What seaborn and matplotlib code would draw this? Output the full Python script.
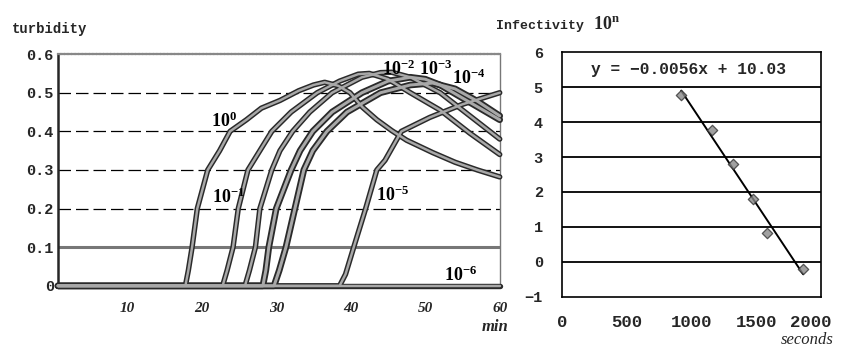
import numpy as np
import pandas as pd
import matplotlib.pyplot as plt
import matplotlib.transforms as mtransforms
import seaborn as sns

# --- turbidity curves, time in min ---
t_e0 = [0.7, 17.8, 18.2, 18.7, 19.4, 20.8, 22.4, 23.8, 26.0, 28.0, 30.5, 33.0, 35.0, 36.5, 38.3, 39.9, 41.6, 43.5, 45.5, 47.5, 51.0, 54.0, 57.0, 60.0]
od_e0 = [0.0, 0.0, 0.04, 0.1, 0.2, 0.3, 0.35, 0.4, 0.43, 0.46, 0.48, 0.505, 0.52, 0.527, 0.518, 0.5, 0.462, 0.43, 0.402, 0.377, 0.345, 0.32, 0.30, 0.282]

t_e1 = [0.7, 22.8, 23.4, 24.2, 24.9, 26.2, 27.8, 29.4, 32.0, 35.5, 38.5, 41.0, 42.5, 45.0, 48.0, 52.0, 56.0, 60.0]
od_e1 = [0.0, 0.0, 0.04, 0.1, 0.2, 0.3, 0.35, 0.4, 0.45, 0.5, 0.53, 0.548, 0.55, 0.535, 0.5, 0.455, 0.395, 0.34]

t_e2 = [0.7, 25.8, 26.4, 27.2, 27.8, 29.4, 30.5, 32.2, 34.5, 37.5, 41.5, 44.0, 45.5, 48.0, 52.0, 56.0, 60.0]
od_e2 = [0.0, 0.0, 0.04, 0.1, 0.2, 0.3, 0.35, 0.4, 0.45, 0.5, 0.54, 0.552, 0.553, 0.54, 0.5, 0.44, 0.38]

t_e3 = [0.7, 28.2, 28.6, 29.0, 30.0, 32.0, 33.2, 34.9, 37.5, 41.5, 45.0, 48.0, 50.0, 52.0, 56.0, 60.0]
od_e3 = [0.0, 0.0, 0.04, 0.1, 0.2, 0.3, 0.35, 0.4, 0.45, 0.5, 0.53, 0.54, 0.535, 0.52, 0.475, 0.43]

t_e4 = [0.7, 29.7, 30.4, 31.3, 32.5, 33.7, 34.9, 36.8, 39.5, 44.0, 48.0, 51.0, 54.0, 57.0, 60.0]
od_e4 = [0.0, 0.0, 0.04, 0.1, 0.2, 0.3, 0.35, 0.4, 0.45, 0.5, 0.52, 0.525, 0.51, 0.478, 0.44]

t_e5 = [0.7, 38.5, 39.3, 40.4, 42.0, 43.5, 44.6, 46.8, 50.6, 55.0, 60.0]
od_e5 = [0.0, 0.0, 0.03, 0.1, 0.2, 0.3, 0.325, 0.4, 0.436, 0.47, 0.5]

t_e6 = [0.7, 60.0]
od_e6 = [0.0, 0.0]

dilutions = ["10^0", "10^-1", "10^-2", "10^-3", "10^-4", "10^-5", "10^-6"]
curve_t = [t_e0, t_e1, t_e2, t_e3, t_e4, t_e5, t_e6]
curve_od = [od_e0, od_e1, od_e2, od_e3, od_e4, od_e5, od_e6]

# --- infectivity vs detection time ---
seconds = [919, 1158, 1320, 1475, 1583, 1861]
log_inf = [4.77, 3.77, 2.80, 1.80, 0.83, -0.20]

rows = []
for name, ts, ods in zip(dilutions, curve_t, curve_od):
    for t, v in zip(ts, ods):
        rows.append({"dilution": name, "time": t, "turbidity": v})
df = pd.DataFrame(rows)
inf_df = pd.DataFrame({"seconds": seconds, "log_inf": log_inf})

sns.set_style("white")
plt.rcParams["mathtext.fontset"] = "custom"
plt.rcParams["mathtext.rm"] = "Liberation Serif:bold"
plt.rcParams["mathtext.it"] = "Liberation Serif:bold"
plt.rcParams["mathtext.bf"] = "Liberation Serif:bold"
mono = "Liberation Mono"
serif = "Liberation Serif"

fig = plt.figure(figsize=(8.43, 3.49), dpi=100)
ax1 = fig.add_axes([0.0688, 0.181, 0.524, 0.664])
ax2 = fig.add_axes([0.667, 0.149, 0.307, 0.702])

# ---------- left panel ----------
ax1.axhline(0.1, color="#777777", lw=2.2, zorder=1)
for g in [0.2, 0.3, 0.4, 0.5]:
    ax1.axhline(g, color="black", lw=0.9, ls=(0, (10, 4)), zorder=1)

for name in dilutions:
    sub = df[df["dilution"] == name]
    thick = 4.8 if name in ("10^-3", "10^-4") else 3.9
    sns.lineplot(data=sub, x="time", y="turbidity", ax=ax1, color="#2a2a2a",
                 lw=thick, sort=False, estimator=None, clip_on=False, zorder=3)
    sns.lineplot(data=sub, x="time", y="turbidity", ax=ax1, color="#a8a8a8",
                 lw=thick * 0.45, sort=False, estimator=None, clip_on=False, zorder=4)

ax1.set_xlim(0.7, 60)
ax1.set_ylim(0, 0.6)
ax1.set_xticks([10, 20, 30, 40, 50, 60])
ax1.set_xticklabels(["10", "20", "30", "40", "50", "60"], family=serif,
                    style="italic", weight="bold", fontsize=11)
ax1.set_yticks([0, 0.1, 0.2, 0.3, 0.4, 0.5, 0.6])
ax1.set_yticklabels(["0", "0.1", "0.2", "0.3", "0.4", "0.5", "0.6"],
                    family=mono, weight="bold", fontsize=11)
ax1.tick_params(axis="x", direction="in", length=4, pad=12, width=1)
ax1.tick_params(axis="y", direction="out", length=2, pad=1, width=1)
ax1.set_xlabel("")
ax1.set_ylabel("")
ax1.spines["left"].set_linewidth(1.8)
ax1.spines["bottom"].set_linewidth(1.2)
ax1.spines["top"].set_color("#888888")
ax1.spines["top"].set_linestyle((0, (1, 0.6)))
ax1.spines["top"].set_linewidth(1.6)
ax1.spines["right"].set_color("#777777")
ax1.spines["right"].set_linewidth(1.0)

lab_kw = dict(fontsize=13, color="black", zorder=6)
ax1.text(21.3, 0.41, r"$10^{0}$", **lab_kw)
ax1.text(21.4, 0.215, r"$10^{-1}$", **lab_kw)
ax1.text(44.2, 0.545, r"$10^{-2}$", **lab_kw)
ax1.text(49.1, 0.545, r"$10^{-3}$", **lab_kw)
ax1.text(53.6, 0.522, r"$10^{-4}$", **lab_kw)
ax1.text(43.4, 0.22, r"$10^{-5}$", **lab_kw)
ax1.text(52.5, 0.012, r"$10^{-6}$", **lab_kw)

# ---------- right panel ----------
for g in [0, 1, 2, 3, 4, 5]:
    ax2.axhline(g, color="black", lw=1.3, zorder=1)

sns.regplot(data=inf_df, x="seconds", y="log_inf", ax=ax2, ci=None, marker="D",
            scatter_kws=dict(s=28, color="#8a8a8a", edgecolor="#333333", linewidths=0.9, zorder=4),
            line_kws=dict(color="black", lw=1.4, zorder=3))

ax2.set_xlim(0, 2000)
ax2.set_ylim(-1, 6)
ax2.set_xticks([0, 500, 1000, 1500, 2000])
ax2.set_xticklabels(["0", "500", "1000", "1500", "2000"], family=mono,
                    weight="bold", fontsize=12.5)
ax2.set_yticks([-1, 0, 1, 2, 3, 4, 5, 6])
ax2.set_yticklabels(["\u22121", "0", "1", "2", "3", "4", "5", "6"], family=mono,
                    weight="bold", fontsize=11)
ax2.tick_params(axis="x", direction="in", length=4, pad=13, width=1)
ax2.tick_params(axis="y", length=0, pad=14)
ax2.set_xlabel("")
ax2.set_ylabel("")
for s in ax2.spines.values():
    s.set_linewidth(1.2)
    s.set_color("black")
# last tick label sits a little left of its tick, as in the original
last = ax2.get_xticklabels()[-1]
last.set_transform(last.get_transform() + mtransforms.ScaledTranslation(-10 / 100, 0, fig.dpi_scale_trans))
ax2.text(975, 5.5, "y = \u22120.0056x + 10.03", family=mono, weight="bold",
         fontsize=11.7, ha="center", va="center")

# ---------- titles / axis names ----------
fig.text(0.014, 0.918, "turbidity", family=mono, weight="bold", fontsize=10, va="center")
fig.text(0.588, 0.925, "Infectivity", family=mono, weight="bold", fontsize=9.5, va="center")
fig.text(0.704, 0.93, r"$10^{n}$", fontsize=13, va="center")
fig.text(0.587, 0.063, "min", family=serif, style="italic", weight="bold", fontsize=12, ha="center", va="center")
fig.text(0.957, 0.025, "seconds", family=serif, style="italic", fontsize=12, ha="center", va="center")

fig.savefig("out.png", dpi=100)
